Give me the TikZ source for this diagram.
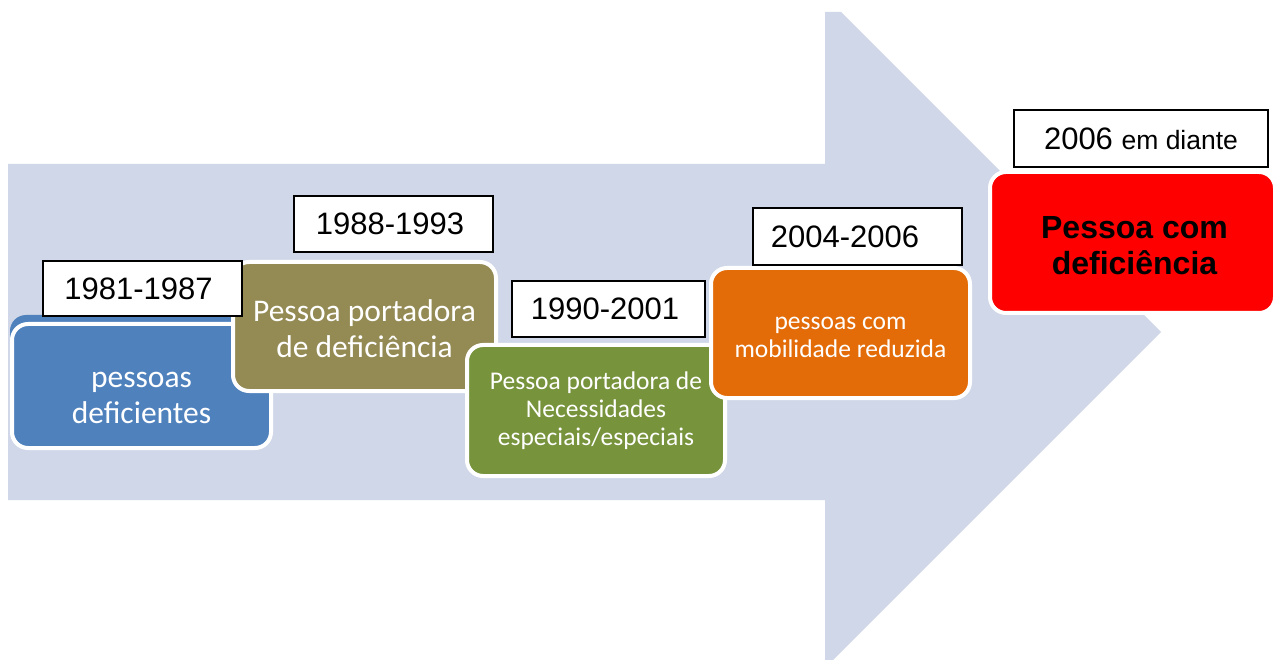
\documentclass[tikz,border=0pt]{standalone}
\usepackage{fontspec}
\setmainfont{Carlito}
\newfontfamily\arialf{Liberation Sans}
\definecolor{arrowbg}{RGB}{208,215,232}
\definecolor{cblue}{RGB}{79,129,189}
\definecolor{colive}{RGB}{148,138,84}
\definecolor{cgreen}{RGB}{119,147,60}
\definecolor{corange}{RGB}{227,108,9}
\definecolor{cred}{RGB}{255,0,0}
\begin{document}
\begin{tikzpicture}[x=1pt,y=-1pt,
  stage/.style={draw=white, line width=4pt, rounded corners=16pt, inner sep=0pt},
  stagetext/.style={text=white, align=center, inner sep=0pt},
  datebox/.style={draw=black, line width=2pt, fill=white, inner sep=0pt, font=\arialf\fontsize{31}{36}\selectfont},
  bigtxt/.style={font=\fontsize{31.5}{36}\selectfont},
  smalltxt/.style={font=\fontsize{25.5}{28}\selectfont},
]
\useasboundingbox (0,0) rectangle (1280,660);
% background arrow
\fill[arrowbg] (8,164) -- (825,164) -- (825,12) -- (841,12) -- (1161,332) -- (833,660) -- (825,660) -- (825,500) -- (8,500) -- cycle;
% stages
\fill[cblue, rounded corners=16pt] (10,315) rectangle (272,440);
\node[stage, fill=cblue, minimum width=259pt, minimum height=124pt] (s1) at (141.5,386) {};
\node[stagetext, bigtxt] (t1) at ([yshift=-12pt]s1.center) {pessoas\\deficientes};
\node[stage, fill=colive, minimum width=263pt, minimum height=129pt] (s2) at (364.5,326.5) {};
\node[stagetext, bigtxt] (t2) at ([yshift=-2pt]s2.center) {Pessoa portadora\\de deficiência};
\node[stage, fill=cgreen, minimum width=258pt, minimum height=131pt] (s3) at (596,410.5) {};
\node[stagetext, smalltxt] (t3) at (s3.center) {Pessoa portadora de\\Necessidades\\especiais/especiais};
\node[stage, fill=corange, minimum width=259pt, minimum height=130pt] (s4) at (840.5,333) {};
\node[stagetext, smalltxt] (t4) at ([yshift=-4pt]s4.center) {pessoas com\\mobilidade reduzida};
\node[stage, fill=cred, minimum width=285pt, minimum height=141pt] (s5) at (1132.5,242.5) {};
\node[stagetext, text=black, font=\arialf\bfseries\fontsize{32}{36}\selectfont] (t5) at ([xshift=2pt,yshift=-3pt]s5.center) {Pessoa com\\deficiência};
% date labels
\node[datebox, minimum width=199pt, minimum height=55pt] (d1) at (142.5,288.5) {1981-1987\hspace*{8pt}};
\node[datebox, minimum width=199pt, minimum height=56pt] (d2) at (393.5,224) {1988-1993\hspace*{7pt}};
\node[datebox, minimum width=193pt, minimum height=56pt] (d3) at (608.5,309) {1990-2001\hspace*{7pt}};
\node[datebox, minimum width=209pt, minimum height=57pt] (d4) at (857.5,236.5) {2004-2006\hspace*{25pt}};
\node[datebox, minimum width=254pt, minimum height=57pt] (d5) at (1141,138.5) {2006 {\fontsize{26.5}{30}\selectfont em diante}};
\end{tikzpicture}
\end{document}
